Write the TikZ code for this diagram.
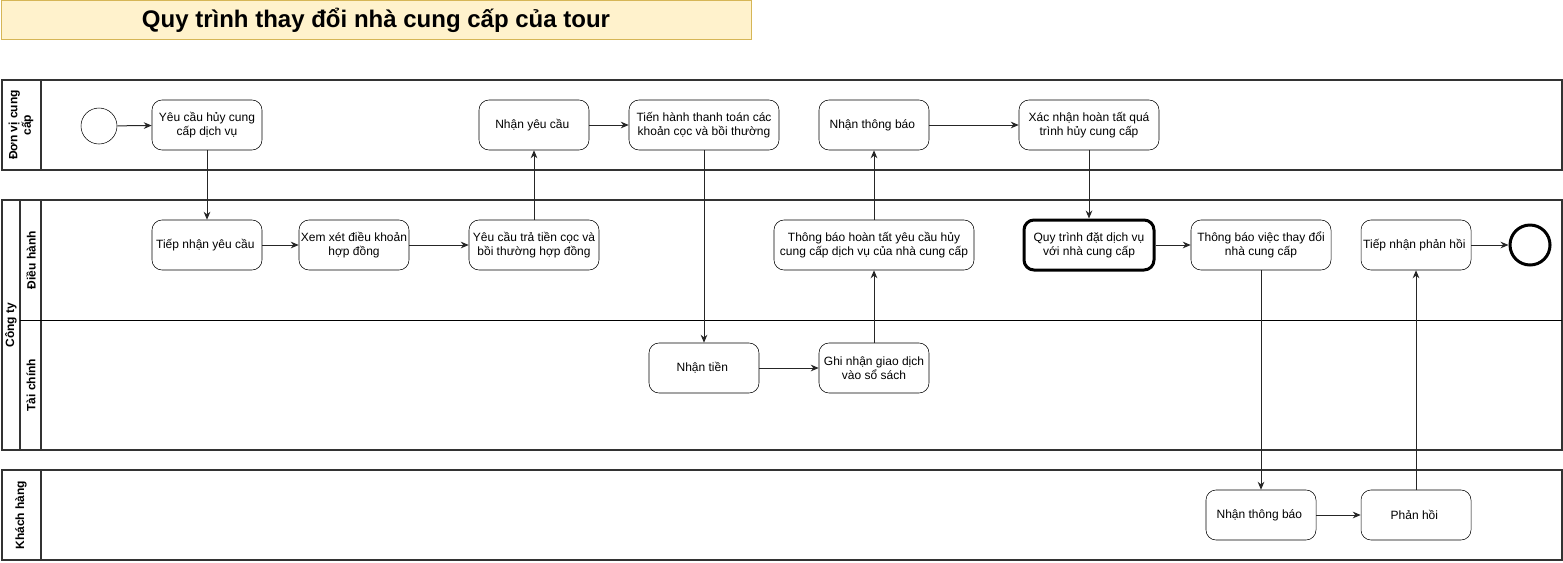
\documentclass[tikz,border=0pt]{standalone}
\usepackage{fontspec}
\setmainfont{Liberation Sans}
\usetikzlibrary{arrows.meta, positioning}
\definecolor{titleFill}{RGB}{255, 242, 204}
\definecolor{titleLine}{RGB}{214, 182, 86}
\definecolor{poolLine}{RGB}{51, 51, 51}
\tikzset{
    taskBox/.style={
        rectangle, rounded corners=7.5pt, draw=black, fill=white,
        minimum width=82.5pt, minimum height=37.5pt, inner sep=1pt,
        align=center, font=\fontsize{9}{10.5}\selectfont
    },
    eventCircle/.style={
        circle, draw=black, fill=white,
        minimum size=27pt, inner sep=0pt
    },
    poolFrame/.style={
        draw=poolLine, line width=1.5pt
    },
    laneLabel/.style={
        rotate=90, align=center,
        font=\fontsize{9}{10}\selectfont\bfseries
    },
    flowArrow/.style={
        -{Stealth[length=6pt, width=5pt]},
        line width=0.75pt, draw=black!85
    }
}

\begin{document}
\begin{tikzpicture}[x=0.75pt, y=-0.75pt]

	\useasboundingbox (0,0) rectangle (1563,562);

	% =========================================================
	% Title
	% =========================================================

	\node [rectangle, fill=titleFill, draw=titleLine, line width=0.75pt,
		minimum width=562.5pt, minimum height=29.25pt,
		font=\fontsize{18}{21}\selectfont\bfseries] (title) at (376,20) {
		Quy trình thay đổi nhà cung cấp của tour
	};

	% =========================================================
	% Pools and Lanes
	% =========================================================

	\draw [poolFrame] (2,80) rectangle (1562,170);
	\draw [poolFrame] (41,80) -- (41,170);
	\node [laneLabel] (lanePartner) at (21,125) {Đơn vị cung\\cấp};

	\draw [poolFrame] (2,200) rectangle (1562,450);
	\draw [poolFrame] (20,200) -- (20,450);
	\draw [poolFrame] (41,200) -- (41,450);
	\draw [black, line width=0.75pt] (20,320) -- (1562,320);
	\node [laneLabel] (poolCompany) at (11,325) {Công ty};
	\node [laneLabel] (laneOps) at (31,260) {Điều hành};
	\node [laneLabel] (laneFinance) at (31,385) {Tài chính};

	\draw [poolFrame] (2,470) rectangle (1562,560);
	\draw [poolFrame] (41,470) -- (41,560);
	\node [laneLabel] (laneCustomer) at (21,515) {Khách hàng};

	% =========================================================
	% Supplier Tasks
	% =========================================================

	\node [eventCircle] (start) at (99,126) {};

	\node [taskBox] (reqCancel) at (207,125) {
		Yêu cầu hủy cung\\cấp dịch vụ
	};

	\node [taskBox] (recvRequest) at (534,125) {
		Nhận yêu cầu
	};

	\node [taskBox, minimum width=112.5pt] (payDeposit) at (704,125) {
		Tiến hành thanh toán các\\khoản cọc và bồi thường
	};

	\node [taskBox] (recvNotice) at (874,125) {
		Nhận thông báo
	};

	\node [taskBox, minimum width=105pt] (confirmDone) at (1089,125) {
		Xác nhận hoàn tất quá\\trình hủy cung cấp
	};

	% =========================================================
	% Company Tasks
	% =========================================================

	\node [taskBox] (acceptReq) at (207,245) {
		Tiếp nhận yêu cầu
	};

	\node [taskBox] (reviewTerms) at (354,245) {
		Xem xét điều khoản\\hợp đồng
	};

	\node [taskBox, minimum width=97.5pt] (askRefund) at (534,245) {
		Yêu cầu trả tiền cọc và\\bồi thường hợp đồng
	};

	\node [taskBox, minimum width=150pt] (notifyDone) at (874,245) {
		Thông báo hoàn tất yêu cầu hủy\\cung cấp dịch vụ của nhà cung cấp
	};

	\node [taskBox, minimum width=97.5pt, line width=2.25pt] (bookService) at (1089,245) {
		Quy trình đặt dịch vụ\\với nhà cung cấp
	};

	\node [taskBox, minimum width=105pt] (notifyChange) at (1261,245) {
		Thông báo việc thay đổi\\nhà cung cấp
	};

	\node [taskBox] (acceptReply) at (1416,245) {
		Tiếp nhận phản hồi
	};

	\node [eventCircle, minimum size=30pt, line width=2.25pt] (finish) at (1530,245) {};

	\node [taskBox] (recvMoney) at (704,368) {
		Nhận tiền
	};

	\node [taskBox] (recordDeal) at (874,368) {
		Ghi nhận giao dịch\\vào sổ sách
	};

	% =========================================================
	% Customer Tasks
	% =========================================================

	\node [taskBox] (custNotice) at (1261,515) {
		Nhận thông báo
	};

	\node [taskBox] (custReply) at (1416,515) {
		Phản hồi
	};

	% =========================================================
	% Flows
	% =========================================================

	\draw [flowArrow] (start) -- (reqCancel);
	\draw [flowArrow] (reqCancel) -- (acceptReq);
	\draw [flowArrow] (acceptReq) -- (reviewTerms);
	\draw [flowArrow] (reviewTerms) -- (askRefund);
	\draw [flowArrow] (askRefund) -- (recvRequest);
	\draw [flowArrow] (recvRequest) -- (payDeposit);
	\draw [flowArrow] (payDeposit) -- (recvMoney);
	\draw [flowArrow] (recvMoney) -- (recordDeal);
	\draw [flowArrow] (recordDeal) -- (notifyDone);
	\draw [flowArrow] (notifyDone) -- (recvNotice);
	\draw [flowArrow] (recvNotice) -- (confirmDone);
	\draw [flowArrow] (confirmDone) -- (bookService);
	\draw [flowArrow] (bookService) -- (notifyChange);
	\draw [flowArrow] (notifyChange) -- (custNotice);
	\draw [flowArrow] (custNotice) -- (custReply);
	\draw [flowArrow] (custReply) -- (acceptReply);
	\draw [flowArrow] (acceptReply) -- (finish);

\end{tikzpicture}
\end{document}
